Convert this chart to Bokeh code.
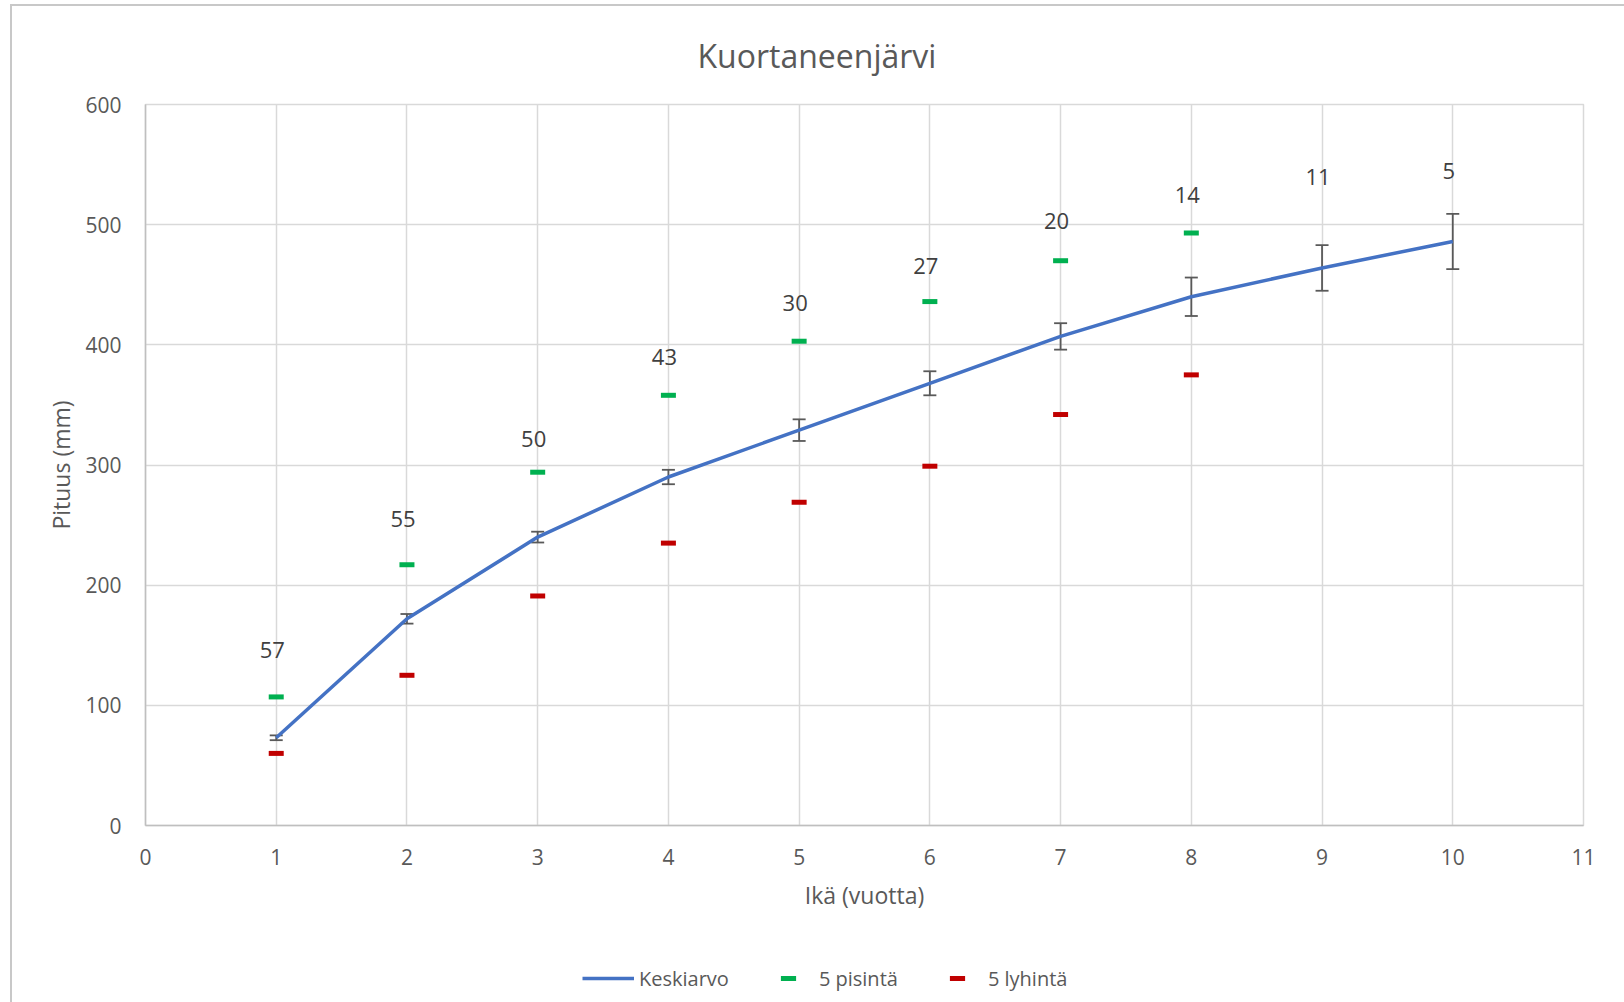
import numpy as np
from bokeh.plotting import figure
from bokeh.layouts import column
from bokeh.models import (ColumnDataSource, Whisker, TeeHead, Legend, LegendItem,
                          FixedTicker, Range1d)
from bokeh.core.properties import value
from bokeh.embed import file_html
from bokeh.resources import INLINE

# ---- data ----
ages = [1, 2, 3, 4, 5, 6, 7, 8, 9, 10]
mean_len = [73, 172, 240, 290, 329, 368, 407, 440, 464, 486]
mean_err = [2, 4, 4.5, 6, 9, 10, 11, 16, 19, 23]
long_ages = [1, 2, 3, 4, 5, 6, 7, 8]
longest5 = [107, 217, 294, 358, 403, 436, 470, 493]
short_ages = [1, 2, 3, 4, 5, 6, 7, 8]
shortest5 = [60, 125, 191, 235, 269, 299, 342, 375]
counts = ["57", "55", "50", "43", "30", "27", "20", "14", "11", "5"]
count_pos = [146, 255, 322, 390, 435, 466, 503, 525, 540, 545]
x_ticks = list(range(0, 12))
y_ticks = [0, 100, 200, 300, 400, 500, 600]

title_text = "Kuortaneenjärvi"
x_title = "Ikä (vuotta)"
y_title = "Pituus (mm)"
legend_labels = ["Keskiarvo", "5 pisintä", "5 lyhintä"]

FONT = "Open Sans"
GREY = "#595959"
BLUE = "#4472C4"
GREEN = "#00B050"
RED = "#C00000"

p = figure(output_backend="svg", toolbar_location=None,
           frame_width=1438, frame_height=721,
           x_range=Range1d(0, 11), y_range=Range1d(0, 600),
           min_border_left=133, min_border_right=41,
           min_border_top=98, min_border_bottom=105,
           background_fill_color="white", border_fill_color="white")
p.outline_line_color = "#d9d9d9"
p.outline_line_width = 1.5

p.title.text = title_text
p.title.text_font = FONT
p.title.text_font_size = "32px"
p.title.text_font_style = "normal"
p.title.text_color = GREY
p.title.align = "left"
p.title.offset = 552
p.title.vertical_align = "top"
p.title.standoff = 52

for ax, ticks in ((p.xaxis, x_ticks), (p.yaxis, y_ticks)):
    ax.ticker = FixedTicker(ticks=ticks)
    ax.major_tick_line_color = None
    ax.minor_tick_line_color = None
    ax.major_tick_in = 0
    ax.major_tick_out = 0
    ax.minor_tick_in = 0
    ax.minor_tick_out = 0
    ax.axis_line_color = "#bfbfbf"
    ax.axis_line_width = 1.5
    ax.major_label_text_font = FONT
    ax.major_label_text_font_size = "21px"
    ax.major_label_text_color = GREY
    ax.axis_label_text_font = FONT
    ax.axis_label_text_font_size = "23px"
    ax.axis_label_text_font_style = "normal"
    ax.axis_label_text_color = GREY

p.xaxis.axis_label = x_title
p.yaxis.axis_label = y_title
p.xaxis.major_label_standoff = 23
p.yaxis.major_label_standoff = 24
p.xaxis.axis_label_standoff = 11
p.yaxis.axis_label_standoff = 5

p.xgrid.ticker = FixedTicker(ticks=x_ticks)
p.ygrid.ticker = FixedTicker(ticks=y_ticks)
p.grid.grid_line_color = "#d9d9d9"
p.grid.grid_line_width = 1.5

src_mean = ColumnDataSource(dict(x=ages, y=mean_len,
                                 lo=[m - e for m, e in zip(mean_len, mean_err)],
                                 hi=[m + e for m, e in zip(mean_len, mean_err)]))
src_long = ColumnDataSource(dict(x=long_ages, y=longest5))
src_short = ColumnDataSource(dict(x=short_ages, y=shortest5))
src_cnt = ColumnDataSource(dict(x=ages, y=count_pos, t=counts))

p.line("x", "y", source=src_mean, line_color=BLUE, line_width=3.5)
whisk = Whisker(base="x", upper="hi", lower="lo", source=src_mean,
                line_color="#595959", line_width=1.8,
                upper_head=TeeHead(size=13, line_color="#595959", line_width=1.8),
                lower_head=TeeHead(size=13, line_color="#595959", line_width=1.8))
p.add_layout(whisk)
p.scatter("x", "y", source=src_long, marker="dash", size=15,
          line_color=GREEN, line_width=5)
p.scatter("x", "y", source=src_short, marker="dash", size=15,
          line_color=RED, line_width=5)

p.text("x", "y", text="t", source=src_cnt, text_font=value(FONT),
       text_font_size="22px", text_color="#404040", text_align="center",
       text_baseline="middle", x_offset=-4)

# ---- legend strip below the chart (legend proxies carry no visible data) ----
p2 = figure(output_backend="svg", toolbar_location=None,
            frame_width=1612, frame_height=72,
            x_range=Range1d(0, 1), y_range=Range1d(0, 1),
            x_axis_location=None, y_axis_location=None, min_border=0,
            background_fill_color="white", border_fill_color="white")
p2.outline_line_color = None
p2.grid.visible = False
proxy = ColumnDataSource(dict(x=np.array([np.nan, np.nan]), y=np.array([np.nan, np.nan])))
l_line = p2.line("x", "y", source=proxy, line_color=BLUE, line_width=3.5)
l_long = p2.scatter("x", "y", source=proxy, marker="dash", size=15,
                    line_color=GREEN, line_width=5)
l_short = p2.scatter("x", "y", source=proxy, marker="dash", size=15,
                     line_color=RED, line_width=5)

legend = Legend(items=[LegendItem(label=legend_labels[0], renderers=[l_line]),
                       LegendItem(label=legend_labels[1], renderers=[l_long]),
                       LegendItem(label=legend_labels[2], renderers=[l_short])],
                orientation="horizontal", location=(570, 5),
                glyph_width=52, glyph_height=38, label_standoff=5, spacing=33,
                padding=6, margin=0,
                border_line_color=None, background_fill_alpha=0,
                label_text_font=FONT, label_text_font_size="20px",
                label_text_color=GREY)
p2.add_layout(legend, "center")

layout = column(p, p2, spacing=0,
                styles={"margin-left": "10px", "margin-top": "4px",
                        "border-left": "2px solid #c8c8c8",
                        "border-top": "2px solid #c8c8c8"})

open("out.html", "w").write(file_html(layout, INLINE))
